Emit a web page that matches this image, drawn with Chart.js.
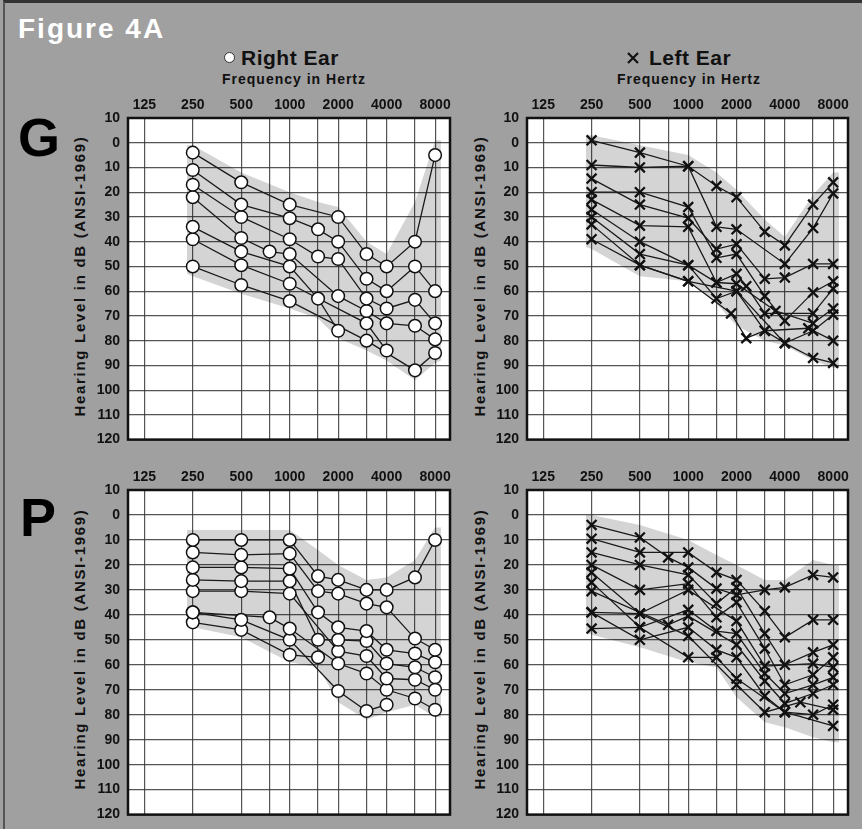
<!DOCTYPE html>
<html>
<head>
<meta charset="utf-8">
<script src="https://cdn.jsdelivr.net/npm/chart.js@4.4.0/dist/chart.umd.min.js"></script>
<style>
  body { margin: 0; width: 862px; height: 829px; background: #a0a0a0; position: relative; overflow: hidden;
         font-family: "Liberation Sans", Arial, sans-serif; font-weight: bold; }
  .t { position: absolute; white-space: nowrap; line-height: 1; }
  canvas { position: absolute; }
  .ytitle { position: absolute; width: 320px; height: 18px; line-height: 18px; font-size: 15px;
            letter-spacing: 1.7px; text-align: center; color: #111; transform: rotate(-90deg); white-space: nowrap; }
</style>
</head>
<body>
<div style="position:absolute;left:3px;top:0;width:900px;height:900px;border-left:2px solid #555;border-top:3px solid #333;"></div>

<div class="t" style="left:18px;top:15px;font-size:28px;letter-spacing:2px;color:#fff">Figure 4A</div>

<div style="position:absolute;left:224px;top:52px;width:11px;height:11px;box-sizing:border-box;border-radius:50%;background:#fff;border:1px solid #333"></div>
<div class="t" style="left:241px;top:47px;font-size:21px;letter-spacing:.5px;color:#111">Right Ear</div>
<div class="t" style="left:222px;top:72px;font-size:14px;letter-spacing:1px;color:#111">Frequency in Hertz</div>

<svg style="position:absolute;left:627px;top:52px" width="12" height="12"><path d="M1 1 L11 11 M11 1 L1 11" stroke="#111" stroke-width="2.2"/></svg>
<div class="t" style="left:649px;top:47px;font-size:21px;letter-spacing:.5px;color:#111">Left Ear</div>
<div class="t" style="left:617px;top:72px;font-size:14px;letter-spacing:1px;color:#111">Frequency in Hertz</div>

<div class="t" style="left:18px;top:110px;font-size:54px;color:#000">G</div>
<div class="t" style="left:20px;top:490px;font-size:54px;color:#000">P</div>

<div class="ytitle" style="left:-80px;top:267px">Hearing Level in dB (ANSI-1969)</div>
<div class="ytitle" style="left:320px;top:267px">Hearing Level in dB (ANSI-1969)</div>
<div class="ytitle" style="left:-80px;top:640px">Hearing Level in dB (ANSI-1969)</div>
<div class="ytitle" style="left:320px;top:640px">Hearing Level in dB (ANSI-1969)</div>

<canvas id="gRightChart" width="394" height="364" style="left:68px;top:92px"></canvas>
<canvas id="gLeftChart" width="395" height="364" style="left:467px;top:92px"></canvas>
<canvas id="pRightChart" width="394" height="367" style="left:68px;top:464px"></canvas>
<canvas id="pLeftChart" width="395" height="367" style="left:467px;top:464px"></canvas>

<script>
// frequency axis (Hz)
const labelFreqs = [125, 250, 500, 1000, 2000, 4000, 8000];
const gridFreqs = [125, 250, 500, 750, 1000, 1500, 2000, 3000, 4000, 6000, 8000];
// hearing level axis (dB)
const dbMin = -10;
const dbMax = 120;

// shaded range: frequencies and upper / lower edges
const envFreqs = [230, 250, 500, 1000, 1500, 2000, 3000, 4000, 6000, 8000, 8700];
const gRightUpper = [1, 1, 12, 20, 24, 26, 40, 45, 24, -1, -1];
const gRightLower = [53, 54, 61, 67, 71, 79, 84, 88, 96, 89, 88];
const gLeftUpper = [-3, -3, 1, 5, 12, 19, 31, 38, 21, 12, 12];
const gLeftLower = [42, 43, 54, 56, 65, 74, 80, 82, 88, 91, 91];
const pRightUpper = [6, 6, 6, 6, 14, 20, 26, 25, 18, 5, 5];
const pRightLower = [45, 45, 49, 59, 61, 75, 82, 79, 76, 81, 81];
const pLeftUpper = [0, 0, 4, 10, 16, 20, 26, 26, 18, 20, 20];
const pLeftLower = [47, 48, 53, 59, 61, 73, 83, 85, 89, 91, 91];

// group G, right ear: one audiogram per line, [Hz, dB]
const gRight = [
  [[250, 4], [500, 16], [1000, 25], [2000, 30], [3000, 45], [4000, 50], [6000, 40], [8000, 5]],
  [[250, 11], [500, 25], [1000, 30.5], [1500, 35], [2000, 40], [3000, 55], [4000, 60], [6000, 50], [8000, 60]],
  [[250, 17], [500, 30], [1000, 39], [1500, 46], [2000, 47], [3000, 63], [4000, 67], [6000, 63.5], [8000, 73]],
  [[250, 22], [500, 38.5], [750, 44], [1000, 45], [2000, 62], [3000, 68], [4000, 73], [6000, 74], [8000, 79.5]],
  [[250, 34], [500, 44], [1000, 50], [1500, 63], [2000, 76]],
  [[250, 39], [500, 49.5], [1000, 57], [3000, 73], [4000, 84]],
  [[250, 50], [500, 57.5], [1000, 64], [3000, 80], [6000, 92], [8000, 85]]
];

// group G, left ear
const gLeft = [
  [[250, -1], [500, 4], [1000, 9.5], [1500, 17.5], [2000, 22], [3000, 36], [4000, 41.5], [6000, 25], [8000, 16]],
  [[250, 9], [500, 10], [1000, 9.5], [1500, 34], [2000, 35], [4000, 49], [6000, 34.5], [8000, 20.5]],
  [[250, 14.5], [500, 25], [1000, 30.5], [1500, 43], [2000, 41], [3000, 55], [4000, 54.5], [6000, 49], [8000, 49]],
  [[250, 20], [500, 20], [1000, 26], [1500, 46.5], [2000, 45], [3000, 62], [4000, 72], [6000, 60.5], [8000, 56]],
  [[250, 23], [500, 33.5], [1000, 34], [1500, 56.5], [2000, 53], [2300, 58], [3000, 69], [6000, 69], [8000, 59]],
  [[250, 27], [500, 40], [1000, 49.5], [1500, 56.5], [2000, 57], [3500, 68], [6000, 73], [8000, 67]],
  [[250, 30], [500, 45], [1000, 49.5], [1500, 63], [2000, 60], [3000, 76], [4000, 81], [6000, 76], [8000, 69.5]],
  [[250, 33], [500, 49.5], [1000, 56], [1850, 69], [2300, 79], [3000, 76], [5600, 75], [8000, 80]],
  [[250, 39], [500, 49.5], [1000, 56], [2000, 60], [4000, 81], [6000, 87], [8000, 89]]
];

// group P, right ear
const pRight = [
  [[250, 10], [500, 10], [1000, 10], [1500, 24.5], [2000, 26], [3000, 30], [4000, 30], [6000, 25], [8000, 10]],
  [[250, 15], [500, 16], [1000, 15.5], [1500, 30.5], [2000, 31.5], [3000, 35.5], [4000, 37], [6000, 49.5], [8000, 54]],
  [[250, 21], [500, 21], [1000, 21.5], [1500, 39], [2000, 45], [3000, 46.5], [4000, 54], [6000, 55.5], [8000, 59]],
  [[250, 26], [500, 26.5], [1000, 26.5], [1500, 50], [2000, 50], [3000, 50.5], [4000, 59.5], [6000, 61], [8000, 65]],
  [[250, 30.5], [500, 30.5], [1000, 31.5], [2000, 54.5], [3000, 56.5], [4000, 65.5], [6000, 66], [8000, 70]],
  [[250, 39], [750, 41], [1000, 45.5], [2000, 59.5], [3000, 63.5], [4000, 70], [6000, 73.5], [8000, 78]],
  [[250, 39], [500, 42], [1000, 50], [2000, 70.5], [3000, 78.5], [4000, 76]],
  [[250, 43], [500, 46], [1000, 56], [1500, 57]]
];

// group P, left ear
const pLeft = [
  [[250, 4], [500, 9], [750, 17], [1000, 21], [1500, 29.5], [2000, 32], [3000, 30], [4000, 29], [6000, 24], [8000, 25]],
  [[250, 9.5], [500, 15], [1000, 15], [1500, 23], [2000, 26], [3000, 38.5], [4000, 49], [6000, 42], [8000, 42]],
  [[250, 15], [500, 20], [1000, 24], [1500, 35.5], [2000, 29], [3000, 47.5], [4000, 60], [6000, 55], [8000, 52]],
  [[250, 20], [500, 30], [1000, 27.5], [1500, 41], [2000, 35], [3000, 53.5], [4000, 68], [6000, 64], [8000, 57]],
  [[250, 23], [500, 39.5], [1000, 30], [2000, 42.5], [3000, 60.5], [6000, 59.5], [8000, 61]],
  [[250, 27], [500, 45], [1000, 38], [1500, 46.5], [2000, 47.5], [3000, 63.5], [4000, 71.5], [6000, 68], [8000, 65]],
  [[250, 30.5], [750, 44], [1000, 40.5], [2000, 52], [3000, 66.5], [4000, 75.5], [6000, 71.5], [8000, 68]],
  [[250, 39], [500, 50], [1000, 45], [1500, 54], [2000, 57], [3000, 72.5], [4000, 79], [6000, 80], [8000, 76]],
  [[250, 39], [500, 39.5], [1000, 48.5], [2000, 68], [3000, 79], [5000, 75], [8000, 78]],
  [[250, 45.5], [500, 45], [1000, 57], [1500, 57], [2000, 65.5], [4000, 79], [8000, 84.5]]
];

const fontFamily = '"Liberation Sans", Arial, sans-serif';
const gridColor = 'rgba(55,55,55,0.85)';

// white plot area and black frame
const framePlugin = {
  id: 'frame',
  beforeDraw(chart) {
    const a = chart.chartArea;
    chart.ctx.save();
    chart.ctx.fillStyle = '#fff';
    chart.ctx.fillRect(a.left, a.top, a.right - a.left, a.bottom - a.top);
    chart.ctx.restore();
  },
  afterDraw(chart) {
    const a = chart.chartArea;
    chart.ctx.save();
    chart.ctx.strokeStyle = '#111';
    chart.ctx.lineWidth = 2.5;
    chart.ctx.strokeRect(a.left, a.top, a.right - a.left, a.bottom - a.top);
    chart.ctx.restore();
  }
};

function toXY(pairs) {
  return pairs.map(p => ({ x: p[0], y: p[1] }));
}

function envelope(values) {
  return envFreqs.map((f, i) => ({ x: f, y: values[i] }));
}

function buildPanel(id, subjects, upper, lower, ear) {
  let marker;
  if (ear === 'right') {
    marker = { pointStyle: 'circle', pointRadius: 6.3, pointBackgroundColor: '#fff',
               pointBorderColor: '#111', pointBorderWidth: 1.5 };
  } else {
    marker = { pointStyle: 'crossRot', pointRadius: 7, pointBackgroundColor: '#111',
               pointBorderColor: '#111', pointBorderWidth: 2.3 };
  }

  let datasets = [
    { data: envelope(upper), borderColor: 'rgba(0,0,0,0)', borderWidth: 0, pointRadius: 0, fill: false, order: 3 },
    { data: envelope(lower), borderColor: 'rgba(0,0,0,0)', borderWidth: 0, pointRadius: 0,
      fill: '-1', backgroundColor: 'rgba(0,0,0,0.17)', order: 3 }
  ];
  subjects.forEach(s => {
    datasets.push({ data: toXY(s), borderColor: '#1a1a1a', borderWidth: 1.3, pointRadius: 0, fill: false, order: 2 });
  });
  subjects.forEach(s => {
    datasets.push(Object.assign({ data: toXY(s), showLine: false, fill: false, order: 1 }, marker));
  });

  return new Chart(document.getElementById(id).getContext('2d'), {
    type: 'line',
    data: { datasets: datasets },
    options: {
      responsive: false,
      animation: false,
      events: [],
      layout: { autoPadding: false, padding: { top: 0, left: 0, right: ear === 'right' ? 12 : 14, bottom: 10 } },
      plugins: { legend: { display: false }, tooltip: { enabled: false } },
      scales: {
        x: {
          type: 'logarithmic',
          position: 'top',
          min: 99,
          max: 9900,
          afterBuildTicks: scale => { scale.ticks = gridFreqs.map(v => ({ value: v })); },
          afterFit: scale => { scale.height = 26; },
          border: { display: false },
          grid: { color: gridColor, lineWidth: 1.2, drawTicks: false },
          ticks: {
            autoSkip: false, maxRotation: 0, padding: 4, color: '#111',
            font: { family: fontFamily, size: 14, weight: 'bold' },
            callback: v => labelFreqs.includes(v) ? String(v) : ''
          }
        },
        y: {
          type: 'linear',
          reverse: true,
          min: dbMin,
          max: dbMax,
          afterFit: scale => { scale.width = 60; },
          border: { display: false },
          grid: { color: gridColor, lineWidth: 1.2, drawTicks: false },
          ticks: {
            stepSize: 10, autoSkip: false, padding: 8, color: '#111',
            font: { family: fontFamily, size: 14, weight: 'bold' },
            callback: v => String(Math.abs(v))
          }
        }
      }
    },
    plugins: [framePlugin]
  });
}

buildPanel('gRightChart', gRight, gRightUpper, gRightLower, 'right');
buildPanel('gLeftChart', gLeft, gLeftUpper, gLeftLower, 'left');
buildPanel('pRightChart', pRight, pRightUpper, pRightLower, 'right');
buildPanel('pLeftChart', pLeft, pLeftUpper, pLeftLower, 'left');
</script>
</body>
</html>
